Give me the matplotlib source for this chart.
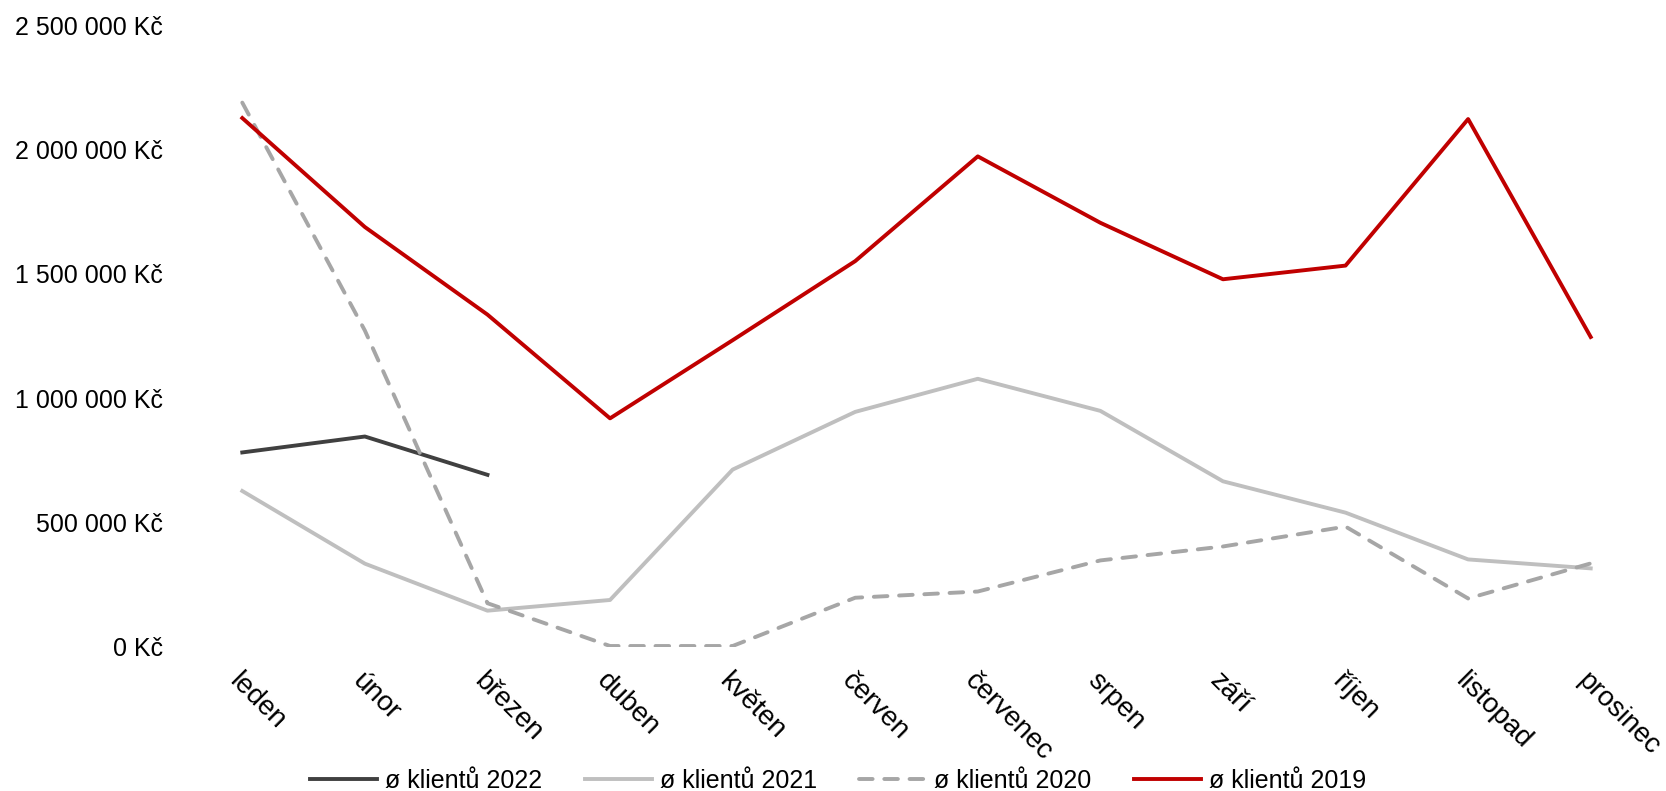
import matplotlib
matplotlib.use('Agg')
import matplotlib.pyplot as plt
from matplotlib.ticker import FuncFormatter, MultipleLocator

months = ['leden', 'únor', 'březen', 'duben', 'květen', 'červen',
          'červenec', 'srpen', 'září', 'říjen', 'listopad', 'prosinec']

# average per client, in Kč
klienti_2022 = [782000, 846000, 692000]
klienti_2021 = [627000, 335000, 146000, 189000, 713000, 945000,
                1078000, 949000, 666000, 540000, 352000, 316000]
klienti_2020 = [2188000, 1272000, 176000, 4000, 4000, 198000,
                223000, 348000, 404000, 484000, 195000, 336000]
klienti_2019 = [2126000, 1688000, 1336000, 919000, 1233000, 1551000,
                1972000, 1705000, 1478000, 1533000, 2122000, 1246000]

plt.rcParams['font.family'] = ['Liberation Sans', 'DejaVu Sans']

fig = plt.figure(figsize=(16.66, 7.91), dpi=100)
ax = fig.add_axes([181 / 1666, 1 - 647 / 791, (1652 - 181) / 1666, (647 - 25) / 791])

x = list(range(len(months)))
ax.plot(x[:len(klienti_2022)], klienti_2022, color='#404040', lw=2.8, label='ø klientů 2022')
ax.plot(x, klienti_2021, color='#BFBFBF', lw=2.8, label='ø klientů 2021')
ax.plot(x, klienti_2020, color='#A6A6A6', lw=2.8, ls=(0, (3.5, 3)), dash_capstyle='round',
        label='ø klientů 2020')
ax.plot(x, klienti_2019, color='#C00000', lw=2.8, label='ø klientů 2019')

ax.set_xlim(-0.5, len(months) - 0.5)
ax.set_ylim(0, 2500000)
ax.yaxis.set_major_locator(MultipleLocator(500000))
ax.yaxis.set_major_formatter(FuncFormatter(lambda v, p: f'{int(v):,} Kč'.replace(',', ' ')))

ax.set_xticks(x)
ax.set_xticklabels(months, rotation=-45, ha='left', va='top', rotation_mode='anchor')
ax.tick_params(axis='y', length=0, labelsize=18, pad=13)
ax.tick_params(axis='x', length=0, labelsize=20, pad=15)
for s in ax.spines.values():
    s.set_visible(False)

fig.legend(loc='center', bbox_to_anchor=(0.503, 1 - 781 / 791), ncol=4, frameon=False,
           prop={'size': 18},
           handlelength=2.7, handletextpad=0.3, columnspacing=1.7)

fig.savefig('out.png', dpi=100)
